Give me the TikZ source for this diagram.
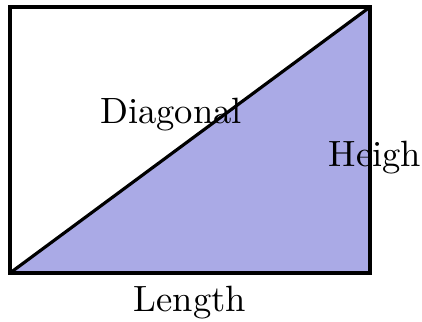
\documentclass[tikz,border=0pt]{standalone}
\usepackage{tikz}
\usetikzlibrary{positioning,calc}
\definecolor{trifill}{RGB}{170,170,230}
\tikzset{
    edge/.style={line width=0.9pt, line join=miter},
    sidelabel/.style={font=\fontsize{10.4}{12}\selectfont, inner sep=0pt}
}

\begin{document}
\begin{tikzpicture}[x=0.01cm, y=0.01cm]
            \useasboundingbox (0,0) rectangle (422,321);
            \coordinate (bl) at (10,48);
            \coordinate (br) at (370,48);
            \coordinate (tr) at (370,314);
            \coordinate (tl) at (10,314);

            \fill[trifill] (bl) -- (br) -- (tr) -- cycle;
            \draw[edge] (bl) rectangle (tr);
            \draw[edge] (bl) -- (tr);

            \node[sidelabel] (diag) at (171,206) {Diagonal};
            \node[sidelabel, anchor=west] (height) at (328,163) {Heigh};
            \node[sidelabel] (length) at (190,18) {Length};
        \end{tikzpicture}
\end{document}
